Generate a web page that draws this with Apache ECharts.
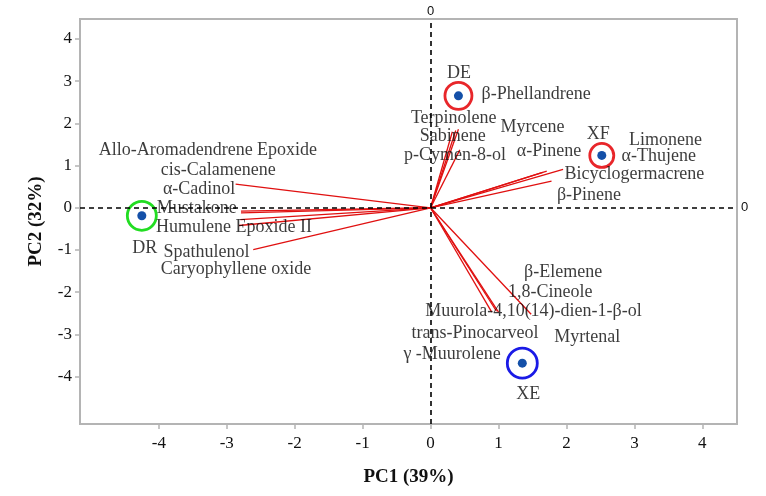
<!DOCTYPE html>
<html><head><meta charset="utf-8">
<script src="https://cdn.jsdelivr.net/npm/echarts@6/dist/echarts.min.js"></script>
<style>html,body{margin:0;padding:0;background:#fff}#c{width:766px;height:496px}</style>
</head><body><div id="c"></div>
<script>
// ---- data ----
const tickValues = [-4, -3, -2, -1, 0, 1, 2, 3, 4];
const xRange = [-5.16, 4.51];
const yRange = [-5.12, 4.47];

const sampleNames = ['DE', 'XF', 'DR', 'XE'];
const sampleX = [0.41, 2.52, -4.25, 1.35];
const sampleY = [2.65, 1.24, -0.19, -3.68];
const sampleLabelX = [0.24, 2.30, -4.39, 1.26];
const sampleLabelY = [3.19, 1.73, -0.96, -4.41];
const ringColors = ['#e8262a', '#e8262a', '#22dd22', '#1a1ae6'];

const loadingX = [-2.87, -2.79, -2.79, -2.80, -2.82, -2.61, 0.41, 0.37, 0.32, 0.43, 1.71, 1.65, 1.95, 1.78, 0.90, 0.97, 1.00, 1.48];
const loadingY = [0.56, -0.08, -0.12, -0.28, -0.42, -0.99, 1.86, 1.83, 1.80, 1.37, 0.87, 0.84, 0.91, 0.63, -2.47, -2.45, -2.47, -2.52];

const varNames = ['Allo-Aromadendrene Epoxide', 'cis-Calamenene', 'α-Cadinol', 'Mustakone', 'Humulene Epoxide II',
  'Spathulenol', 'Caryophyllene oxide', 'β-Phellandrene', 'Terpinolene', 'Sabinene', 'p-Cymen-8-ol', 'Myrcene',
  'α-Pinene', 'Limonene', 'α-Thujene', 'Bicyclogermacrene', 'β-Pinene', 'β-Elemene', '1,8-Cineole',
  'Muurola-4,10(14)-dien-1-β-ol', 'trans-Pinocarveol', 'Myrtenal', 'γ -Muurolene'];
const varLabelX = [-4.885, -3.97, -3.94, -4.03, -4.04, -3.93, -3.97, 0.75, -0.29, -0.16, -0.39, 1.03,
  1.27, 2.92, 2.81, 1.97, 1.86, 1.375, 1.14, -0.08, -0.28, 1.82, -0.40];
const varLabelY = [1.37, 0.90, 0.44, -0.01, -0.45, -1.05, -1.46, 2.69, 2.12, 1.70, 1.25, 1.90,
  1.33, 1.61, 1.21, 0.79, 0.30, -1.52, -2.00, -2.45, -2.98, -3.06, -3.47];

const axisNames = ['PC1 (39%)', 'PC2 (32%)'];

// ---- chart ----
const serif = 'Liberation Serif, Times New Roman, serif';
const chart = echarts.init(document.getElementById('c'), null, {renderer: 'canvas'});

function axis(range, name, isX) {
  return {
    type: 'value', min: range[0], max: range[1],
    name: name, nameLocation: 'middle', nameGap: isX ? 44 : 34,
    nameTextStyle: {fontFamily: serif, fontWeight: 'bold', fontSize: 19, color: '#111'},
    splitLine: {show: false},
    axisLine: {show: true, onZero: false, lineStyle: {color: '#b4b4b4', width: 2}},
    axisTick: {show: true, customValues: tickValues, length: 5, lineStyle: {color: '#b4b4b4', width: 1.5}},
    axisLabel: {show: true, customValues: tickValues, fontFamily: serif, fontSize: 17, color: '#111', margin: isX ? 11 : 8}
  };
}

const vectorData = loadingX.map((x, i) => ({coords: [[0, 0], [x, loadingY[i]]]}));
const sampleData = sampleX.map((x, i) => [x, sampleY[i]]);
const ringData = sampleX.map((x, i) => ({
  value: [x, sampleY[i]],
  itemStyle: {borderColor: ringColors[i]}
}));
const ringSizes = [27, 24, 29, 30];
const varLabelData = varNames.map((n, i) => ({value: [varLabelX[i], varLabelY[i]], name: n}));
const sampleLabelData = sampleNames.map((n, i) => ({value: [sampleLabelX[i], sampleLabelY[i]], name: n}));

const textLabel = {
  show: true, position: [0, 0], align: 'left', verticalAlign: 'middle',
  formatter: p => p.name, fontFamily: serif, fontSize: 18, color: '#0a0a0a'
};

chart.setOption({
  animation: false,
  backgroundColor: '#fff',
  grid: {left: 80, right: 29, top: 19, bottom: 72, outerBoundsMode: 'none', show: true,
    borderColor: '#b4b4b4', borderWidth: 2, backgroundColor: 'transparent'},
  xAxis: axis(xRange, axisNames[0], true),
  yAxis: axis(yRange, axisNames[1], false),
  series: [
    {
      type: 'line', data: [], silent: true,
      markLine: {
        silent: true, symbol: 'none',
        lineStyle: {color: '#000', type: [5, 4], width: 1.6},
        label: {show: true, position: 'end', formatter: '0', fontFamily: 'Liberation Sans, Arial', fontSize: 13, color: '#111'},
        data: [{xAxis: 0, label: {distance: 1}}, {yAxis: 0, label: {distance: 4}}]
      }
    },
    {
      type: 'lines', coordinateSystem: 'cartesian2d', silent: true,
      lineStyle: {color: '#e01010', width: 1.3, opacity: 1},
      data: vectorData
    },
    {
      type: 'scatter', silent: true, symbolSize: 0,
      label: textLabel, data: varLabelData
    },
    {
      type: 'scatter', silent: true, symbolSize: 0,
      label: textLabel, data: sampleLabelData
    },
    {
      type: 'scatter', silent: true, symbol: 'circle',
      symbolSize: (v, p) => ringSizes[p.dataIndex],
      itemStyle: {color: 'transparent', borderWidth: 2.8, opacity: 1},
      data: ringData
    },
    {
      type: 'scatter', silent: true, symbol: 'circle', symbolSize: 9,
      itemStyle: {color: '#1450a8', opacity: 1},
      data: sampleData
    }
  ]
});
</script>
</body></html>
